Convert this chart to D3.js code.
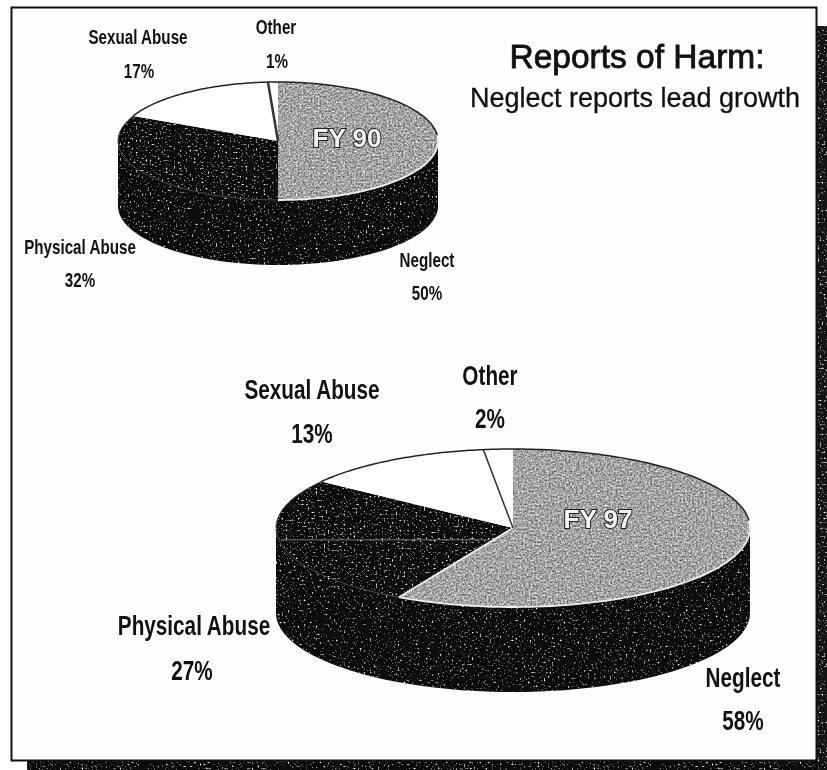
<!DOCTYPE html>
<html><head><meta charset="utf-8">
<script src="https://cdn.jsdelivr.net/npm/d3@7"></script>
<style>html,body{margin:0;padding:0;background:#fff;overflow:hidden}svg{display:block}</style>
</head><body><div id="c"></div>
<script>
const categories = ["Neglect","Physical Abuse","Sexual Abuse","Other"];
const fy90Values = [50,32,17,1];
const fy97Values = [58,27,13,2];
const yearLabels = ["FY 90","FY 97"];
const titleLines = ["Reports of Harm:","Neglect reports lead growth"];

const W=827,H=770;
const svg=d3.select("#c").append("svg").attr("width",W).attr("height",H);
const defs=svg.append("defs");

function speckle(id,freq,seed,slope,icpt){
  const f=defs.append("filter").attr("id",id).attr("x","-2%").attr("y","-2%").attr("width","104%").attr("height","104%").attr("color-interpolation-filters","sRGB");
  f.append("feTurbulence").attr("type","fractalNoise").attr("baseFrequency",freq).attr("numOctaves",1).attr("seed",seed).attr("result","n");
  f.append("feColorMatrix").attr("in","n").attr("type","matrix")
    .attr("values",`0 0 0 0 1  0 0 0 0 1  0 0 0 0 1  ${slope} 0 0 0 ${icpt}`).attr("result","d");
  f.append("feGaussianBlur").attr("in","d").attr("stdDeviation",0.7).attr("result","db");
  f.append("feComposite").attr("in","db").attr("in2","SourceAlpha").attr("operator","in").attr("result","dc");
  const m=f.append("feMerge");
  m.append("feMergeNode").attr("in","SourceGraphic");
  m.append("feMergeNode").attr("in","dc");
}
speckle("spk",0.5,7,6,-3.75);
speckle("spk2",0.5,23,6,-3.75);
const g=defs.append("filter").attr("id","grain").attr("x","-2%").attr("y","-2%").attr("width","104%").attr("height","104%").attr("color-interpolation-filters","sRGB");
g.append("feTurbulence").attr("type","fractalNoise").attr("baseFrequency",0.55).attr("numOctaves",2).attr("seed",11).attr("result","n");
g.append("feColorMatrix").attr("in","n").attr("type","matrix")
  .attr("values","0.9 0 0 0 0.19  0.9 0 0 0 0.19  0.9 0 0 0 0.19  0 0 0 0 1").attr("result","gr");
g.append("feGaussianBlur").attr("in","gr").attr("stdDeviation",0.6).attr("result","grb");
g.append("feComposite").attr("in","grb").attr("in2","SourceAlpha").attr("operator","in");
defs.append("filter").attr("id","soft").attr("color-interpolation-filters","sRGB").append("feGaussianBlur").attr("stdDeviation",0.6);

const pageShadow=svg.append("g").attr("filter","url(#spk2)");
pageShadow.append("rect").attr("x",27).attr("y",757).attr("width",W-27).attr("height",13).attr("fill","#0b0b0b");
pageShadow.append("rect").attr("x",817).attr("y",26).attr("width",10).attr("height",744).attr("fill","#141414");
svg.append("rect").attr("x",11.5).attr("y",7.5).attr("width",805).attr("height",753)
  .attr("fill","#fefefe").attr("stroke","#111").attr("stroke-width",2).attr("filter","url(#soft)");

const pie=d3.pie().sort(null).startAngle(0).endAngle(2*Math.PI);

function drawPie(root,values,cfg){
  const x=d3.scaleLinear().domain([-1,1]).range([cfg.cx-cfg.rx,cfg.cx+cfg.rx]);
  const y=d3.scaleLinear().domain([-1,1]).range([cfg.cy-cfg.ry,cfg.cy+cfg.ry]);
  const line=d3.line();
  const arcs=pie(values);
  const pt=(a,d=0)=>[x(Math.sin(a)),y(-Math.cos(a))+d];
  const samples=(a0,a1,d=0)=>d3.range(0,73).map(i=>pt(a0+(a1-a0)*i/72,d));

  const wall=[...samples(Math.PI/2,3*Math.PI/2,0),...samples(3*Math.PI/2,Math.PI/2,cfg.depth)];
  root.append("path").attr("d",line(wall)+"Z").attr("fill","#0c0c0c").attr("filter","url(#spk)");

  const slicePath=a=>line([[x(0),y(0)],...samples(a.startAngle,a.endAngle)])+"Z";
  const fills=["#a6a6a6","#0d0d0d","#ffffff","#ffffff"];
  const sel=root.selectAll("path.s").data(arcs).enter().append("path").attr("class","s")
    .attr("d",slicePath).attr("fill",(d,i)=>fills[i]);
  sel.filter((d,i)=>i===0).attr("filter","url(#grain)");
  sel.filter((d,i)=>i===1).attr("filter","url(#spk2)");

  const a=arcs;
  const edge=(pts,col,w)=>root.append("path").attr("d",line(pts)).attr("fill","none").attr("stroke",col).attr("stroke-width",w).attr("filter","url(#soft)");
  edge(samples(a[2].startAngle,2*Math.PI),"#222",1.5);
  edge(samples(0,Math.PI*0.47),"#222",1.5);
  edge(samples(Math.PI*0.47,a[0].endAngle),"#eee",1.8);
  edge([[x(0),y(0)],pt(a[0].endAngle)],"#eee",1.8);
  edge(samples(a[1].startAngle,a[1].endAngle),"#444",1);
  edge([[x(0),y(0)],pt(a[3].startAngle)],"#333",cfg.sep);
  edge([[x(0),y(0)],pt(0)],"#222",1.6);
  return {x,y};
}

const pie90=svg.append("g");
drawPie(pie90,fy90Values,{cx:278,cy:141,rx:160,ry:59,depth:65,sep:2.5});
const pie97=svg.append("g");
const s97=drawPie(pie97,fy97Values,{cx:513,cy:528,rx:237,ry:79,depth:85,sep:1.5});
pie97.append("path").attr("d",d3.line()([[s97.x(-0.98),s97.y(0.15)],[s97.x(-0.1),s97.y(0.15)]]))
  .attr("stroke","#bbb").attr("stroke-width",1).attr("opacity",0.6);

const SANS="'Liberation Sans',Arial,sans-serif";
const text=svg.append("g").attr("filter","url(#soft)").attr("text-anchor","middle").attr("fill","#111").attr("font-family",SANS);
function narrow(str,x,y,size,sx){
  text.append("text").attr("transform",`translate(${x},${y}) scale(${sx},1)`).attr("font-weight",700).attr("font-size",size).text(str);
}
function label(cat,val,p,size,sx){
  narrow(cat,p[0],p[1],size,sx);
  narrow(val+"%",p[2],p[3],size,sx);
}
const lab90=[[427,267,427,300],[80,254,80,287],[138,44,139,78],[276,34,277,68]];
const lab97=[[743,687,743,730],[194,635,192,680],[312,399,312,443],[490,385,490,428]];
categories.forEach((c,i)=>{
  label(c,fy90Values[i],lab90[i],20,0.76);
  label(c,fy97Values[i],lab97[i],28,0.74);
});
text.append("text").attr("x",637).attr("y",68).attr("font-size",33.5).attr("stroke","#111").attr("stroke-width",0.8).text(titleLines[0]);
text.append("text").attr("x",635).attr("y",107).attr("font-size",27).attr("stroke","#111").attr("stroke-width",0.3).text(titleLines[1]);
const fy=svg.append("g").attr("text-anchor","middle").attr("font-family",SANS).attr("font-weight",700).attr("font-size",26).attr("fill","#f4f4f4").attr("stroke","#222").attr("stroke-width",2).attr("paint-order","stroke").attr("filter","url(#soft)");
fy.append("text").attr("x",347).attr("y",147).text(yearLabels[0]);
fy.append("text").attr("x",598).attr("y",528).text(yearLabels[1]);
</script></body></html>
